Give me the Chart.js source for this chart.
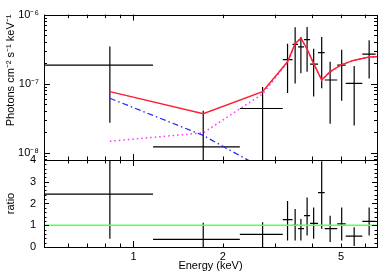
<!DOCTYPE html>
<html>
<head>
<meta charset="utf-8">
<script src="https://cdn.jsdelivr.net/npm/chart.js@4.4.1/dist/chart.umd.min.js"></script>
<style>
  html, body { margin: 0; padding: 0; background: #fff; }
  canvas { display: block; }
</style>
</head>
<body>
<canvas id="spec" width="382" height="273"></canvas>
<script>
// binned spectrum: bin centre and bin edges (keV)
const energy   = [0.833, 1.717, 2.72, 3.30, 3.50, 3.66, 3.84, 4.04, 4.30, 4.59, 5.02, 5.53, 6.21];
const energyLo = [0.5, 1.164, 2.28, 3.18, 3.43, 3.58, 3.75, 3.93, 4.18, 4.40, 4.85, 5.18, 5.89];
const energyHi = [1.164, 2.28, 3.18, 3.43, 3.58, 3.75, 3.93, 4.18, 4.40, 4.85, 5.18, 5.89, 6.53];

// unfolded flux (photons cm-2 s-1 keV-1) with 1-sigma range
const flux   = [1.86e-7, 1.22e-8, 4.37e-8, 2.23e-7, 3.70e-7, 3.40e-7, 4.33e-7, 1.92e-7, 2.81e-7, 1.13e-7, 1.85e-7, 1.01e-7, 2.67e-7];
const fluxLo = [2.71e-8, 1e-10, 1e-10, 7.3e-8, 1.01e-7, 1.41e-7, 1.49e-7, 6.5e-8, 8.57e-8, 2.64e-8, 5.65e-8, 2.47e-8, 1.19e-7];
const fluxHi = [3.45e-7, 4.06e-8, 8.98e-8, 3.79e-7, 6.58e-7, 4.72e-7, 6.64e-7, 3.21e-7, 4.72e-7, 2.07e-7, 3.10e-7, 1.81e-7, 4.24e-7];

// model curves
const modelEnergy = [0.833, 1.717, 2.72, 3.30, 3.50, 3.66, 3.84, 4.04, 4.30, 4.59, 5.02, 5.53, 6.21, 6.6];
const modelTotal  = [7.67e-8, 3.67e-8, 7.67e-8, 2.07e-7, 3.80e-7, 4.57e-7, 3.18e-7, 1.95e-7, 1.13e-7, 1.49e-7, 1.89e-7, 2.19e-7, 2.44e-7, 2.46e-7];
const modelPow    = [6.15e-8, 1.78e-8, 6.0e-9, 3.0e-9, 2.4e-9, 2.0e-9, 1.7e-9, 1.4e-9, 1.1e-9, 9e-10, 7e-10, 5e-10, 3e-10, 2.5e-10];
const modelLine   = [1.47e-8, 1.94e-8, 7.10e-8, 2.04e-7, 3.78e-7, 4.55e-7, 3.16e-7, 1.94e-7, 1.12e-7, 1.48e-7, 1.88e-7, 2.18e-7, 2.43e-7, 2.45e-7];

// data / model ratio
const ratio   = [2.43, 0.35, 0.58, 1.26, 1.00, 0.84, 1.44, 1.09, 2.50, 0.84, 1.06, 0.50, 1.18];
const ratioLo = [0.38, -0.5, -0.5, 0.30, 0.30, 0.30, 0.53, 0.38, 0.84, 0.23, 0.30, 0.05, 0.53];
const ratioHi = [4.6, 1.11, 1.14, 2.12, 1.75, 1.29, 2.27, 1.82, 3.94, 1.44, 1.82, 0.91, 1.82];

const xTickValues = [0.5, 0.6, 0.7, 0.8, 0.9, 1, 2, 3, 4, 5, 6];
const xLabelValues = [1, 2, 5];

const SUP = { '-': '\u207B', '0': '\u2070', '1': '\u00B9', '2': '\u00B2', '3': '\u00B3', '4': '\u2074',
              '5': '\u2075', '6': '\u2076', '7': '\u2077', '8': '\u2078', '9': '\u2079' };
const sup = (n) => String(n).split('').map((c) => SUP[c]).join('');

function crosses(xs, xlo, xhi, ys, ylo, yhi) {
  const pts = [];
  xs.forEach((x, i) => {
    pts.push({ x: xlo[i], y: ys[i] }, { x: xhi[i], y: ys[i] }, { x: xhi[i], y: null });
    pts.push({ x: x, y: ylo[i] }, { x: x, y: yhi[i] }, { x: x, y: null });
  });
  return pts;
}

const pairs = (xs, ys) => xs.map((x, i) => ({ x: x, y: ys[i] }));

Chart.defaults.font.family = "'Liberation Sans', Arial, sans-serif";
Chart.defaults.font.size = 11;
Chart.defaults.color = '#000';

// frame and inward ticks, like the usual xspec plot
const framePlugin = {
  id: 'frame',
  afterDatasetsDraw(chart) {
    const { ctx } = chart;
    const x = chart.scales.x, y = chart.scales.y, yr = chart.scales.yr;
    const r = (v) => Math.round(v) + 0.5;
    ctx.save();
    ctx.strokeStyle = '#000';
    ctx.lineWidth = 1;
    const line = (x1, y1, x2, y2) => {
      ctx.beginPath(); ctx.moveTo(x1, y1); ctx.lineTo(x2, y2); ctx.stroke();
    };
    [y, yr].forEach((s) => {
      ctx.strokeRect(r(x.left), r(s.top), Math.round(x.right - x.left), Math.round(s.bottom - s.top));
      xTickValues.forEach((v) => {
        const px = r(x.getPixelForValue(v));
        const len = v === 1 ? 6 : 3.5;
        line(px, s.top, px, s.top + len);
        line(px, s.bottom, px, s.bottom - len);
      });
    });
    // log flux axis
    for (let e = -9; e <= -6; e++) {
      for (let m = 1; m <= 9; m++) {
        const v = m * Math.pow(10, e);
        if (v < y.min || v > y.max * 1.0001) continue;
        const py = r(y.getPixelForValue(v));
        const len = m === 1 ? 6 : 3;
        line(x.left, py, x.left + len, py);
        line(x.right, py, x.right - len, py);
      }
    }
    // ratio axis
    for (let k = 0; k <= 20; k++) {
      const v = k * 0.2;
      const py = r(yr.getPixelForValue(v));
      const len = k % 5 === 0 ? 5 : 2.5;
      line(x.left, py, x.left + len, py);
      line(x.right, py, x.right - len, py);
    }
    ctx.restore();
  }
};

new Chart(document.getElementById('spec'), {
  type: 'line',
  data: {
    datasets: [
      {
        label: 'model',
        data: pairs(modelEnergy, modelTotal),
        yAxisID: 'y',
        borderColor: 'rgb(255, 30, 50)',
        borderWidth: 1.5,
        pointRadius: 0,
        order: 0,
      },
      {
        label: 'powerlaw',
        data: pairs(modelEnergy, modelPow),
        yAxisID: 'y',
        borderColor: 'rgb(40, 40, 255)',
        borderWidth: 1.3,
        borderDash: [6, 3, 1.5, 3],
        pointRadius: 0,
        order: 2,
      },
      {
        label: 'line',
        data: pairs(modelEnergy, modelLine),
        yAxisID: 'y',
        borderColor: 'rgb(255, 50, 255)',
        borderWidth: 1.5,
        borderDash: [1.5, 3],
        pointRadius: 0,
        order: 3,
      },
      {
        label: 'data',
        data: crosses(energy, energyLo, energyHi, flux, fluxLo, fluxHi),
        yAxisID: 'y',
        borderColor: '#000',
        borderWidth: 1.2,
        pointRadius: 0,
        spanGaps: false,
        order: 4,
      },
      {
        label: 'unity',
        data: [{ x: 0.5, y: 1 }, { x: 6.6, y: 1 }],
        yAxisID: 'yr',
        borderColor: 'rgb(90, 255, 90)',
        borderWidth: 1.5,
        pointRadius: 0,
        order: 1,
      },
      {
        label: 'ratio',
        data: crosses(energy, energyLo, energyHi, ratio, ratioLo, ratioHi),
        yAxisID: 'yr',
        borderColor: '#000',
        borderWidth: 1.2,
        pointRadius: 0,
        spanGaps: false,
        order: 5,
      },
    ],
  },
  options: {
    responsive: false,
    animation: false,
    devicePixelRatio: 1,
    layout: { padding: { top: 12, right: 5, left: 0, bottom: 0 } },
    plugins: { legend: { display: false }, tooltip: { enabled: false } },
    scales: {
      x: {
        type: 'logarithmic',
        min: 0.5,
        max: 6.6,
        position: 'bottom',
        grid: { display: false, drawTicks: false },
        border: { display: false },
        ticks: {
          autoSkip: false,
          maxRotation: 0,
          padding: 3,
          callback: (v) => {
            const k = xLabelValues.find((t) => Math.abs(t - v) < 1e-6);
            return k ? String(k) : '';
          },
        },
        title: { display: true, text: 'Energy (keV)', padding: { top: 0, bottom: 0 } },
        afterFit: (s) => { s.height = 26; },
      },
      yr: {
        type: 'linear',
        position: 'left',
        stack: 'panels',
        stackWeight: 88,
        min: 0,
        max: 4,
        grid: { display: false, drawTicks: false },
        border: { display: false },
        ticks: { stepSize: 1, autoSkip: false, padding: 8 },
        title: { display: true, text: 'ratio' },
        afterFit: (s) => { s.width = 44; },
      },
      y: {
        type: 'logarithmic',
        position: 'left',
        stack: 'panels',
        stackWeight: 147,
        min: 7.86e-9,
        max: 1e-6,
        grid: { display: false, drawTicks: false },
        border: { display: false },
        ticks: {
          autoSkip: false,
          padding: 5,
          callback: (v) => {
            const e = Math.log10(v);
            const k = Math.round(e);
            return Math.abs(e - k) < 1e-6 ? '10' + sup(k) : '';
          },
        },
        title: { display: true, text: 'Photons cm\u207B\u00B2 s\u207B\u00B9 keV\u207B\u00B9', align: 'end' },
        afterFit: (s) => { s.width = 44; },
      },
    },
  },
  plugins: [framePlugin],
});
</script>
</body>
</html>
